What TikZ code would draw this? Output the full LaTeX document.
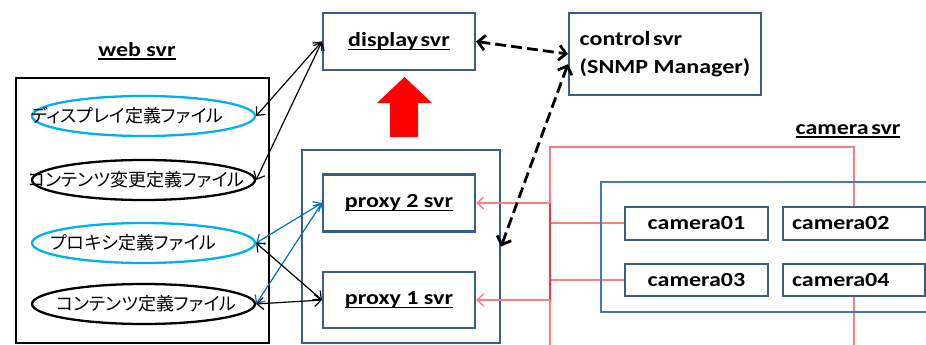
\documentclass[tikz,border=0pt]{standalone}
\usepackage{fontspec}
\setmainfont{Carlito}
\newfontfamily\lbl[FakeStretch=1.2]{Carlito}
\newfontfamily\jp[RawFeature=+palt]{Noto Sans CJK JP}
\newcommand\myul[1]{\setbox0\hbox{#1}\rlap{\rule[-3.5pt]{\wd0}{1.6pt}}\box0}
\newcommand\fixw[2]{\makebox[0pt]{\hspace*{#1}#2}}
\usetikzlibrary{arrows.meta,shapes.geometric}
\definecolor{boxblue}{HTML}{385D8A}
\definecolor{camblue}{HTML}{4677BE}
\definecolor{cyanell}{HTML}{00B0F0}
\definecolor{arrblue}{HTML}{0070C0}
\definecolor{pinkred}{HTML}{FF7C80}
\definecolor{deepred}{HTML}{FF3040}
\definecolor{bigred}{HTML}{FF0000}
\pgfdeclarelayer{bg}
\pgfsetlayers{bg,main}
\tikzset{
  lblfont/.style={font=\lbl\bfseries\fontsize{20}{28}\selectfont},
  srvbox/.style={draw=boxblue, line width=2.2pt, rectangle, inner sep=0pt, lblfont},
  cambox/.style={draw=boxblue, line width=2pt, rectangle, inner sep=0pt, minimum height=33pt, lblfont},
  fileell/.style={ellipse, line width=2.3pt, inner sep=0pt, minimum width=223pt, minimum height=40pt,
    font=\jp\fontsize{18}{20}\selectfont},
  blk/.style={draw=black, line width=1.2pt, {Straight Barb[length=6.5pt,width=12pt]}-{Straight Barb[length=6.5pt,width=12pt]}},
  blu/.style={draw=arrblue, line width=1.2pt, {Straight Barb[length=6.5pt,width=12pt]}-{Straight Barb[length=6.5pt,width=12pt]}},
  dsh/.style={draw=black, line width=2.8pt, dash pattern=on 11pt off 5pt,
    {Straight Barb[length=7pt,width=15pt]}-{Straight Barb[length=7pt,width=15pt]}},
  redln/.style={draw=pinkred, line width=1.4pt},
}
\begin{document}
\begin{tikzpicture}[x=1pt,y=-1pt]
\useasboundingbox (0,0) rectangle (926,345);

% web svr
\node[lblfont] (weblbl) at (137,51) {\myul{web svr}};
\node[draw=black, line width=2pt, rectangle, inner sep=0pt, minimum width=253pt, minimum height=265pt] (web) at (142.5,210.5) {};
\node[fileell, draw=cyanell] (e1) at (143.5,116) {\fixw{-32pt}{ディスプレイ定義ファイル}};
\node[fileell, draw=black] (e2) at (143.5,180) {\fixw{-14pt}{コンテンツ変更定義ファイル}};
\node[fileell, draw=cyanell] (e3) at (143.5,243) {\fixw{-20pt}{プロキシ定義ファイル}};
\node[fileell, draw=black] (e4) at (143.5,304) {\fixw{6pt}{コンテンツ定義ファイル}};

% display / control
\node[srvbox, minimum width=152pt, minimum height=57pt] (display) at (399,41.5) {\myul{display\hspace{2.5pt}svr}};
\node[srvbox, minimum width=192pt, minimum height=82pt, align=left] (control) at (665,54) {control\hspace{2.5pt}svr\\(SNMP Manager)};

% red block arrow
\fill[bigred] (390,137) -- (390,103) -- (377,103) -- (404.5,77) -- (432,103) -- (418,103) -- (418,137) -- cycle;

% proxy
\node[srvbox, minimum width=198pt, minimum height=193pt] (proxyouter) at (401,246.5) {};
\node[srvbox, minimum width=152pt, minimum height=57pt] (proxy2) at (399,203) {\myul{proxy 2 svr}};
\node[srvbox, minimum width=152pt, minimum height=56pt] (proxy1) at (399,300) {\myul{proxy 1 svr}};

% camera
\node[lblfont] (camlbl) at (848,131) {\myul{camera\hspace{2.5pt}svr}};
\node[draw=camblue, line width=2.2pt, rectangle, inner sep=0pt, minimum width=339pt, minimum height=130pt] (camouter) at (770.5,247) {};
\node[cambox, minimum width=143pt] (cam1) at (696.5,223) {camera01};
\node[cambox, minimum width=142pt, text width=124pt, align=left] (cam2) at (854,223) {camera02};
\node[cambox, minimum width=143pt, minimum height=32pt] (cam3) at (696.5,280) {camera03};
\node[cambox, minimum width=142pt, minimum height=32pt, text width=124pt, align=left] (cam4) at (854,280) {camera04};

% red wiring
\coordinate (rtop) at (550,147);
\coordinate (rbot) at (550,345);
\coordinate (cbot) at (854,345);
\begin{pgfonlayer}{bg}
\draw[redln] (rbot) -- (rtop) -| (cam2.north);
\draw[redln] (rtop |- cam1.west) -- (cam1.west);
\draw[redln] (rtop |- cam3.west) -- (cam3.west);
\draw[redln] (cam4.south) -- (cbot);
\draw[draw=deepred, line width=1.6pt] (rtop |- proxy2.east) -- (rtop |- proxy1.east);
\end{pgfonlayer}
\draw[redln, -{Straight Barb[length=6.5pt,width=12pt]}] (rtop |- proxy2.east) -- (proxy2.east);
\draw[redln, -{Straight Barb[length=6.5pt,width=12pt]}] (rtop |- proxy1.east) -- (proxy1.east);

% web connectors
\draw[blk] (display.west) -- (e1.east);
\draw[blk] (display.west) -- (e2.east);
\draw[blu] (proxy2.west) -- (e3.east);
\draw[blu] (proxy2.west) -- (e4.east);
\draw[blk] (proxy1.west) -- (e3.east);
\draw[blk] (proxy1.west) -- (e4.east);

% dashed
\draw[dsh] (display.east) -- (control.west);
\draw[dsh] (control.186) -- (proxyouter.east);
\end{tikzpicture}
\end{document}
